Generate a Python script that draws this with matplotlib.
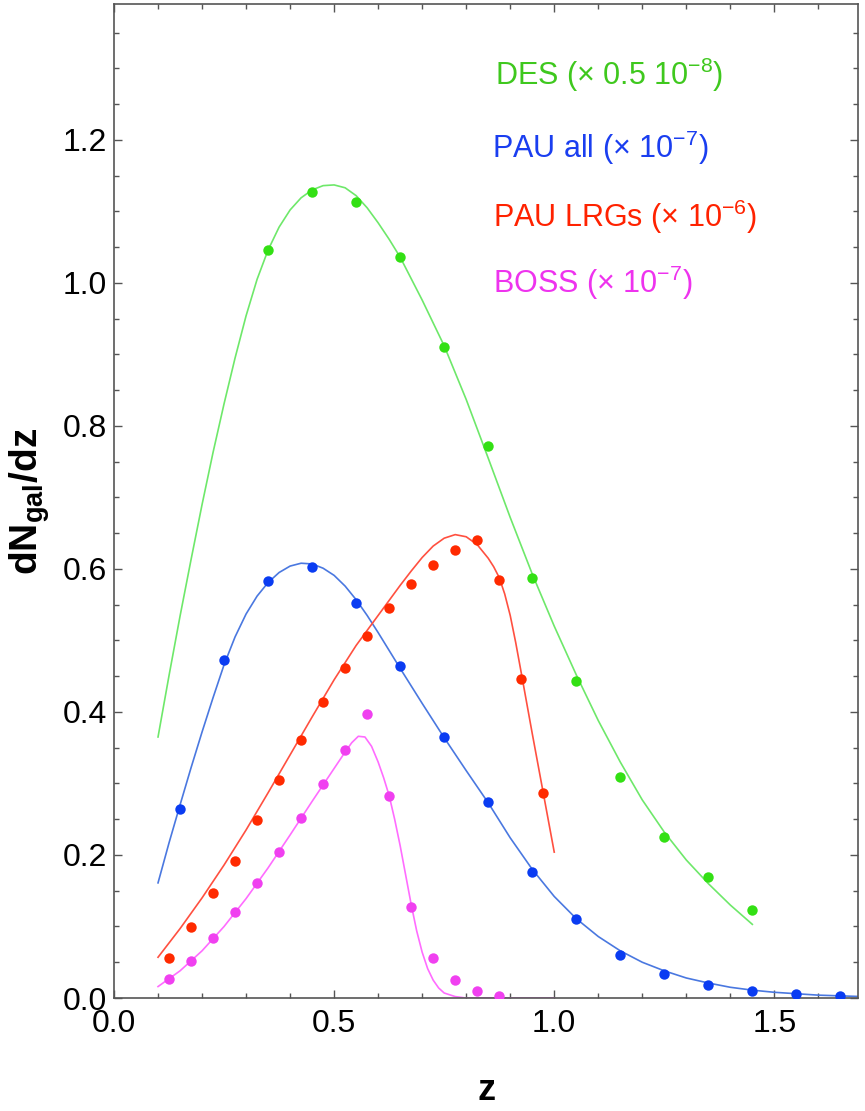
import matplotlib
matplotlib.use("Agg")
import matplotlib.pyplot as plt
from matplotlib import font_manager
from matplotlib.ticker import MultipleLocator, FormatStrFormatter

# measured points (z, dN/dz)
des_z = [0.35, 0.45, 0.55, 0.65, 0.75, 0.85, 0.95, 1.05, 1.15, 1.25, 1.35, 1.45]
des_n = [1.046, 1.127, 1.113, 1.036, 0.910, 0.772, 0.587, 0.443, 0.309, 0.225, 0.169, 0.123]

pau_z = [0.15, 0.25, 0.35, 0.45, 0.55, 0.65, 0.75, 0.85, 0.95, 1.05, 1.15, 1.25,
         1.35, 1.45, 1.55, 1.65]
pau_n = [0.264, 0.473, 0.583, 0.603, 0.553, 0.464, 0.365, 0.274, 0.176, 0.110, 0.060,
         0.034, 0.018, 0.010, 0.006, 0.003]

lrg_z = [0.125, 0.175, 0.225, 0.275, 0.325, 0.375, 0.425, 0.475, 0.525, 0.575, 0.625,
         0.675, 0.725, 0.775, 0.825, 0.875, 0.925, 0.975]
lrg_n = [0.056, 0.099, 0.147, 0.192, 0.249, 0.305, 0.361, 0.414, 0.462, 0.506, 0.545,
         0.579, 0.606, 0.627, 0.641, 0.585, 0.446, 0.287]

boss_z = [0.125, 0.175, 0.225, 0.275, 0.325, 0.375, 0.425, 0.475, 0.525, 0.575, 0.625,
          0.675, 0.725, 0.775, 0.825, 0.875]
boss_n = [0.027, 0.052, 0.084, 0.120, 0.161, 0.204, 0.252, 0.299, 0.347, 0.397, 0.283,
          0.127, 0.056, 0.025, 0.010, 0.003]

# fitted curves, sampled along z
des_fz = [0.100, 0.125, 0.150, 0.175, 0.200, 0.225, 0.250, 0.275, 0.300, 0.325, 0.350,
          0.375, 0.400, 0.425, 0.450, 0.475, 0.500, 0.525, 0.550, 0.575, 0.600, 0.625,
          0.65, 0.70, 0.75, 0.80, 0.85, 0.90, 0.95, 1.00, 1.05, 1.10, 1.15, 1.20, 1.25,
          1.30, 1.35, 1.40, 1.45]
des_fn = [0.365, 0.451, 0.534, 0.613, 0.690, 0.763, 0.831, 0.895, 0.954, 1.005, 1.046,
          1.078, 1.102, 1.119, 1.130, 1.136, 1.137, 1.133, 1.122, 1.105, 1.084, 1.061,
          1.036, 0.976, 0.912, 0.837, 0.755, 0.672, 0.593, 0.520, 0.452, 0.388, 0.330,
          0.277, 0.232, 0.193, 0.160, 0.130, 0.103]

pau_fz = [0.100, 0.125, 0.150, 0.175, 0.200, 0.225, 0.250, 0.275, 0.300, 0.325, 0.350,
          0.375, 0.400, 0.425, 0.450, 0.475, 0.500, 0.525, 0.550, 0.575, 0.600, 0.625,
          0.65, 0.70, 0.75, 0.80, 0.85, 0.90, 0.95, 1.00, 1.05, 1.10, 1.15, 1.20, 1.25,
          1.30, 1.35, 1.40, 1.45, 1.50, 1.55, 1.60, 1.70]
pau_fn = [0.161, 0.217, 0.270, 0.322, 0.372, 0.420, 0.466, 0.505, 0.537, 0.562, 0.581,
          0.595, 0.604, 0.608, 0.607, 0.601, 0.591, 0.576, 0.557, 0.535, 0.511, 0.486,
          0.461, 0.412, 0.364, 0.318, 0.273, 0.224, 0.180, 0.142, 0.111, 0.086, 0.066,
          0.050, 0.038, 0.028, 0.021, 0.015, 0.011, 0.008, 0.006, 0.004, 0.002]

lrg_fz = [0.10, 0.15, 0.20, 0.25, 0.30, 0.35, 0.40, 0.45, 0.50, 0.55, 0.600, 0.625,
          0.650, 0.675, 0.700, 0.725, 0.750, 0.775, 0.800, 0.825, 0.850, 0.8625, 0.875,
          0.8875, 0.900, 0.9125, 0.925, 0.950, 0.975, 1.000]
lrg_fn = [0.057, 0.097, 0.140, 0.186, 0.235, 0.287, 0.340, 0.393, 0.445, 0.493, 0.535,
          0.556, 0.577, 0.597, 0.616, 0.632, 0.643, 0.648, 0.645, 0.634, 0.615, 0.603,
          0.588, 0.565, 0.535, 0.497, 0.455, 0.370, 0.287, 0.204]

boss_fz = [0.10, 0.15, 0.20, 0.25, 0.30, 0.35, 0.40, 0.45, 0.475, 0.500, 0.525, 0.540,
           0.555, 0.570, 0.585, 0.600, 0.6125, 0.625, 0.6375, 0.650, 0.6625, 0.675,
           0.6875, 0.700, 0.7125, 0.725, 0.7375, 0.750, 0.775, 0.80, 1.00]
boss_fn = [0.016, 0.038, 0.066, 0.100, 0.139, 0.182, 0.228, 0.275, 0.298, 0.321, 0.344,
           0.357, 0.366, 0.365, 0.352, 0.330, 0.308, 0.283, 0.250, 0.213, 0.172, 0.131,
           0.094, 0.064, 0.041, 0.025, 0.014, 0.007, 0.002, 0.0, 0.0]

labels = [r"DES (× 0.5 10$^{-8}$)", r"PAU all (× 10$^{-7}$)",
          r"PAU LRGs (× 10$^{-6}$)", r"BOSS (× 10$^{-7}$)"]

names = {f.name for f in font_manager.fontManager.ttflist}
narrow = "Liberation Sans Narrow" if "Liberation Sans Narrow" in names else "Liberation Sans"

plt.rcParams["font.family"] = [narrow, "DejaVu Sans"]
plt.rcParams["mathtext.fontset"] = "custom"
plt.rcParams["mathtext.rm"] = narrow
plt.rcParams["mathtext.it"] = narrow + ":italic"
plt.rcParams["mathtext.bf"] = "Liberation Sans:bold"

fig = plt.figure(figsize=(8.65, 11.11), dpi=100)
ax = fig.add_axes([0.1318, 0.1017, 0.8601, 0.8947])

series = [
    (des_z, des_n, des_fz, des_fn, "#33e014", "#6ee86a"),
    (pau_z, pau_n, pau_fz, pau_fn, "#0a3cf2", "#4a78e0"),
    (lrg_z, lrg_n, lrg_fz, lrg_fn, "#ff2a00", "#ff5040"),
    (boss_z, boss_n, boss_fz, boss_fn, "#f040f0", "#ff6cff"),
]
for z, n, fz, fn, dot_col, line_col in series:
    ax.plot(fz, fn, color=line_col, lw=1.2, zorder=2)
    ax.plot(z, n, "o", color=dot_col, ms=7.5, mec="none", zorder=3)

ax.set_xlim(0, 1.69)
ax.set_ylim(0, 1.39)
ax.xaxis.set_major_locator(MultipleLocator(0.5))
ax.xaxis.set_minor_locator(MultipleLocator(0.1))
ax.yaxis.set_major_locator(MultipleLocator(0.2))
ax.yaxis.set_minor_locator(MultipleLocator(0.05))
ax.xaxis.set_major_formatter(FormatStrFormatter("%.1f"))
ax.yaxis.set_major_formatter(FormatStrFormatter("%.1f"))

for s in ax.spines.values():
    s.set_color("#555555")
    s.set_linewidth(1.2)
ax.tick_params(which="both", direction="in", top=True, right=True,
               color="#555555", width=1.0)
ax.tick_params(which="major", length=6, labelsize=23, pad=5)
ax.tick_params(which="minor", length=3.6)
ax.tick_params(axis="x", which="major", pad=8)

ax.set_xlabel("z", fontsize=26, fontweight="bold", va="baseline")
ax.xaxis.set_label_coords(0.5, (998 - 1100) / 994)
ax.set_ylabel(r"$\mathbf{dN_{gal}/dz}$", fontsize=28, va="center", ha="center")
ax.yaxis.set_label_coords((30 - 114) / 744, 0.5)

text_cols = ["#3fc81e", "#1a3ef0", "#ff2200", "#ee33ee"]
text_pos = [(495, 85), (492, 158), (493, 227), (493, 293)]
for lab, col, (px, py) in zip(labels, text_cols, text_pos):
    fig.text(px / 865, 1 - py / 1111, lab, color=col, fontsize=22, va="baseline")

fig.savefig("out.png", dpi=100)
